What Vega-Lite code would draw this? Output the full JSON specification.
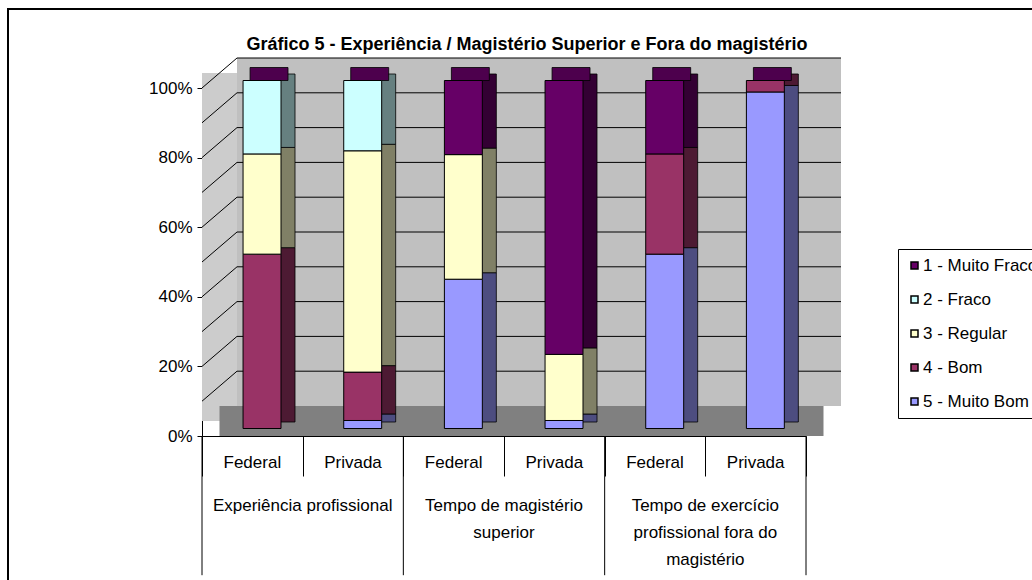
{
  "$schema": "https://vega.github.io/schema/vega-lite/v6.json",
  "width": 604,
  "height": 348,
  "autosize": {"type": "none"},
  "padding": {"left": 202, "top": 88, "right": 226, "bottom": 144},
  "background": "white",
  "config": {"font": "Liberation Sans", "view": {"stroke": null}, "axisY": {"labelOverlap": false, "labelSeparation": 0, "tickCount": 10}},
  "title": {
    "text": "Gráfico 5 - Experiência / Magistério Superior e Fora do magistério",
    "anchor": "middle", "frame": "group", "dx": 23, "offset": -47,
    "font": "Liberation Sans", "fontSize": 18, "fontWeight": "bold", "color": "black"
  },
  "datasets": {
    "notas": [
      {"coluna": "Experiência profissional|Federal", "grupo": "Experiência profissional", "inst": "Federal", "nivel": "4 - Bom", "valor": 50.1},
      {"coluna": "Experiência profissional|Federal", "grupo": "Experiência profissional", "inst": "Federal", "nivel": "3 - Regular", "valor": 28.8},
      {"coluna": "Experiência profissional|Federal", "grupo": "Experiência profissional", "inst": "Federal", "nivel": "2 - Fraco", "valor": 21.1},
      {"coluna": "Experiência profissional|Privada", "grupo": "Experiência profissional", "inst": "Privada", "nivel": "5 - Muito Bom", "valor": 2.3},
      {"coluna": "Experiência profissional|Privada", "grupo": "Experiência profissional", "inst": "Privada", "nivel": "4 - Bom", "valor": 13.9},
      {"coluna": "Experiência profissional|Privada", "grupo": "Experiência profissional", "inst": "Privada", "nivel": "3 - Regular", "valor": 63.6},
      {"coluna": "Experiência profissional|Privada", "grupo": "Experiência profissional", "inst": "Privada", "nivel": "2 - Fraco", "valor": 20.2},
      {"coluna": "Tempo de magistério superior|Federal", "grupo": "Tempo de magistério\nsuperior", "inst": "Federal", "nivel": "5 - Muito Bom", "valor": 42.9},
      {"coluna": "Tempo de magistério superior|Federal", "grupo": "Tempo de magistério\nsuperior", "inst": "Federal", "nivel": "3 - Regular", "valor": 35.8},
      {"coluna": "Tempo de magistério superior|Federal", "grupo": "Tempo de magistério\nsuperior", "inst": "Federal", "nivel": "1 - Muito Fraco", "valor": 21.3},
      {"coluna": "Tempo de magistério superior|Privada", "grupo": "Tempo de magistério\nsuperior", "inst": "Privada", "nivel": "5 - Muito Bom", "valor": 2.3},
      {"coluna": "Tempo de magistério superior|Privada", "grupo": "Tempo de magistério\nsuperior", "inst": "Privada", "nivel": "3 - Regular", "valor": 19.0},
      {"coluna": "Tempo de magistério superior|Privada", "grupo": "Tempo de magistério\nsuperior", "inst": "Privada", "nivel": "1 - Muito Fraco", "valor": 78.7},
      {"coluna": "Exercício fora do magistério|Federal", "grupo": "Tempo de exercício\nprofissional fora do\nmagistério", "inst": "Federal", "nivel": "5 - Muito Bom", "valor": 50.1},
      {"coluna": "Exercício fora do magistério|Federal", "grupo": "Tempo de exercício\nprofissional fora do\nmagistério", "inst": "Federal", "nivel": "4 - Bom", "valor": 28.8},
      {"coluna": "Exercício fora do magistério|Federal", "grupo": "Tempo de exercício\nprofissional fora do\nmagistério", "inst": "Federal", "nivel": "1 - Muito Fraco", "valor": 21.1},
      {"coluna": "Exercício fora do magistério|Privada", "grupo": "Tempo de exercício\nprofissional fora do\nmagistério", "inst": "Privada", "nivel": "5 - Muito Bom", "valor": 96.7},
      {"coluna": "Exercício fora do magistério|Privada", "grupo": "Tempo de exercício\nprofissional fora do\nmagistério", "inst": "Privada", "nivel": "4 - Bom", "valor": 3.3}
    ],
    "marcas": [
      {"tick": 10}, {"tick": 20}, {"tick": 30}, {"tick": 40}, {"tick": 50},
      {"tick": 60}, {"tick": 70}, {"tick": 80}, {"tick": 90}, {"tick": 100}
    ]
  },
  "data": {"name": "notas"},
  "layer": [
    {
      "data": {"values": [{}]},
      "mark": {"type": "rule", "stroke": "black", "strokeWidth": 2, "xOffset": -244.33, "x2Offset": 400, "yOffset": -79},
      "encoding": {
        "x": {"datum": "Experiência profissional|Federal", "type": "nominal", "scale": {"domain": ["Experiência profissional|Federal", "Experiência profissional|Privada", "Tempo de magistério superior|Federal", "Tempo de magistério superior|Privada", "Exercício fora do magistério|Federal", "Exercício fora do magistério|Privada"], "paddingInner": 0, "paddingOuter": 0}},
        "x2": {"datum": "Exercício fora do magistério|Privada"},
        "y": {"datum": 100, "type": "quantitative", "scale": {"domain": [0, 100], "nice": false}}
      }
    },
    {
      "data": {"values": [{}]},
      "mark": {"type": "rule", "stroke": "black", "strokeWidth": 2, "xOffset": -244.33, "yOffset": -80, "y2Offset": 300},
      "encoding": {
        "x": {"datum": "Experiência profissional|Federal", "type": "nominal", "scale": {"domain": ["Experiência profissional|Federal", "Experiência profissional|Privada", "Tempo de magistério superior|Federal", "Tempo de magistério superior|Privada", "Exercício fora do magistério|Federal", "Exercício fora do magistério|Privada"], "paddingInner": 0, "paddingOuter": 0}},
        "y": {"datum": 100, "type": "quantitative", "scale": {"domain": [0, 100], "nice": false}},
        "y2": {"datum": 0}
      }
    },
    {
      "data": {"values": [{}]},
      "mark": {"type": "rule", "stroke": "#CCCCCC", "strokeWidth": 35, "strokeCap": "butt", "xOffset": -32.83, "yOffset": -15, "y2Offset": -15},
      "encoding": {
        "x": {"datum": "Experiência profissional|Federal", "type": "nominal", "scale": {"domain": ["Experiência profissional|Federal", "Experiência profissional|Privada", "Tempo de magistério superior|Federal", "Tempo de magistério superior|Privada", "Exercício fora do magistério|Federal", "Exercício fora do magistério|Privada"], "paddingInner": 0, "paddingOuter": 0}},
        "y": {"datum": 0, "type": "quantitative", "scale": {"domain": [0, 100], "nice": false}},
        "y2": {"datum": 100}
      }
    },
    {
      "data": {"values": [{}]},
      "mark": {"type": "rule", "stroke": "#C0C0C0", "strokeWidth": 348, "strokeCap": "butt", "xOffset": -15.33, "x2Offset": 85.33, "yOffset": -30},
      "encoding": {
        "x": {"datum": "Experiência profissional|Federal", "type": "nominal", "scale": {"domain": ["Experiência profissional|Federal", "Experiência profissional|Privada", "Tempo de magistério superior|Federal", "Tempo de magistério superior|Privada", "Exercício fora do magistério|Federal", "Exercício fora do magistério|Privada"], "paddingInner": 0, "paddingOuter": 0}},
        "x2": {"datum": "Exercício fora do magistério|Privada"},
        "y": {"datum": 50, "type": "quantitative", "scale": {"domain": [0, 100], "nice": false}}
      }
    },
    {
      "data": {"values": [{}]},
      "mark": {"type": "rule", "stroke": "#808080", "strokeWidth": 30, "strokeCap": "butt", "xOffset": -32.83, "x2Offset": 67.83, "yOffset": -15},
      "encoding": {
        "x": {"datum": "Experiência profissional|Federal", "type": "nominal", "scale": {"domain": ["Experiência profissional|Federal", "Experiência profissional|Privada", "Tempo de magistério superior|Federal", "Tempo de magistério superior|Privada", "Exercício fora do magistério|Federal", "Exercício fora do magistério|Privada"], "paddingInner": 0, "paddingOuter": 0}},
        "x2": {"datum": "Exercício fora do magistério|Privada"},
        "y": {"datum": 0, "type": "quantitative", "scale": {"domain": [0, 100], "nice": false}}
      }
    },
    {
      "data": {"name": "marcas"},
      "mark": {"type": "rule", "stroke": "black", "strokeWidth": 1, "xOffset": -50.33, "x2Offset": -15.33, "y2Offset": -30},
      "encoding": {
        "x": {"datum": "Experiência profissional|Federal", "type": "nominal", "scale": {"domain": ["Experiência profissional|Federal", "Experiência profissional|Privada", "Tempo de magistério superior|Federal", "Tempo de magistério superior|Privada", "Exercício fora do magistério|Federal", "Exercício fora do magistério|Privada"], "paddingInner": 0, "paddingOuter": 0}},
        "x2": {"datum": "Experiência profissional|Federal"},
        "y": {"field": "tick", "type": "quantitative", "scale": {"domain": [0, 100], "nice": false}},
        "y2": {"field": "tick"}
      }
    },
    {
      "data": {"name": "marcas"},
      "mark": {"type": "rule", "stroke": "black", "strokeWidth": 1, "xOffset": -15.33, "x2Offset": 85.33, "yOffset": -30},
      "encoding": {
        "x": {"datum": "Experiência profissional|Federal", "type": "nominal", "scale": {"domain": ["Experiência profissional|Federal", "Experiência profissional|Privada", "Tempo de magistério superior|Federal", "Tempo de magistério superior|Privada", "Exercício fora do magistério|Federal", "Exercício fora do magistério|Privada"], "paddingInner": 0, "paddingOuter": 0}},
        "x2": {"datum": "Exercício fora do magistério|Privada"},
        "y": {"field": "tick", "type": "quantitative", "scale": {"domain": [0, 100], "nice": false}}
      }
    },
    {
      "mark": {"type": "bar", "width": {"band": 0.377}, "xOffset": 23.7, "yOffset": -14, "y2Offset": -14, "stroke": "black", "strokeWidth": 0.8},
      "encoding": {
        "x": {"field": "coluna", "type": "nominal", "scale": {"domain": ["Experiência profissional|Federal", "Experiência profissional|Privada", "Tempo de magistério superior|Federal", "Tempo de magistério superior|Privada", "Exercício fora do magistério|Federal", "Exercício fora do magistério|Privada"], "paddingInner": 0, "paddingOuter": 0}},
        "y": {"field": "valor", "type": "quantitative", "stack": "zero", "scale": {"domain": [0, 100], "nice": false}},
        "fill": {"field": "nivel", "type": "nominal", "scale": {"domain": ["5 - Muito Bom", "4 - Bom", "3 - Regular", "2 - Fraco", "1 - Muito Fraco"], "range": ["#4D4D80", "#4D1A33", "#808066", "#668080", "#330033"]}, "legend": null},
        "order": {"field": "nivel", "sort": "descending"}
      }
    },
    {
      "transform": [{"aggregate": [{"op": "sum", "field": "valor", "as": "total"}], "groupby": ["coluna"]}],
      "mark": {"type": "bar", "width": {"band": 0.377}, "xOffset": 16.7, "yOffset": -20.5, "y2Offset": -7.5, "fill": "#4D004D", "stroke": "black", "strokeWidth": 0.8},
      "encoding": {
        "x": {"field": "coluna", "type": "nominal", "scale": {"domain": ["Experiência profissional|Federal", "Experiência profissional|Privada", "Tempo de magistério superior|Federal", "Tempo de magistério superior|Privada", "Exercício fora do magistério|Federal", "Exercício fora do magistério|Privada"], "paddingInner": 0, "paddingOuter": 0}},
        "y": {"datum": 100, "type": "quantitative", "scale": {"domain": [0, 100], "nice": false}},
        "y2": {"datum": 100}
      }
    },
    {
      "mark": {"type": "bar", "width": {"band": 0.377}, "xOffset": 9.7, "yOffset": -7.5, "y2Offset": -7.5, "stroke": "black", "strokeWidth": 1},
      "encoding": {
        "x": {
          "field": "coluna", "type": "nominal",
          "scale": {"domain": ["Experiência profissional|Federal", "Experiência profissional|Privada", "Tempo de magistério superior|Federal", "Tempo de magistério superior|Privada", "Exercício fora do magistério|Federal", "Exercício fora do magistério|Privada"], "paddingInner": 0, "paddingOuter": 0},
          "axis": {
            "title": null, "labels": false,
            "tickBand": "extent", "tickSize": 40, "tickColor": "black", "domainColor": "black",
            "grid": false
          }
        },
        "y": {
          "field": "valor", "type": "quantitative", "stack": "zero",
          "scale": {"domain": [0, 100], "nice": false},
          "axis": {
            "title": null, "values": [0, 10, 20, 30, 40, 50, 60, 70, 80, 90, 100], "tickCount": 10,
            "labelExpr": "datum.value + '%'", "grid": false, "labelOverlap": false,
            "domainColor": "black", "tickColor": "black", "tickSize": 5,
            "labelFontSize": 17, "labelColor": "black", "labelPadding": 5
          }
        },
        "color": {
          "field": "nivel", "type": "nominal",
          "scale": {"domain": ["1 - Muito Fraco", "2 - Fraco", "3 - Regular", "4 - Bom", "5 - Muito Bom"], "range": ["#660066", "#CCFFFF", "#FFFFCC", "#993366", "#9999FF"]},
          "legend": {
            "title": null, "orient": "none", "legendX": 696, "legendY": 161,
            "strokeColor": "black", "padding": 8,
            "symbolType": "square", "symbolSize": 49, "symbolStrokeColor": "black",
            "labelFontSize": 17, "labelColor": "black", "labelOffset": 0, "rowPadding": 16
          }
        },
        "order": {"field": "nivel", "sort": "descending"}
      }
    },
    {
      "transform": [
        {"filter": "datum.inst == 'Federal'"},
        {"aggregate": [{"op": "count", "as": "n"}], "groupby": ["coluna"]}
      ],
      "mark": {"type": "rule", "stroke": "black", "strokeWidth": 1},
      "encoding": {
        "x": {"field": "coluna", "type": "nominal", "bandPosition": 0, "scale": {"domain": ["Experiência profissional|Federal", "Experiência profissional|Privada", "Tempo de magistério superior|Federal", "Tempo de magistério superior|Privada", "Exercício fora do magistério|Federal", "Exercício fora do magistério|Privada"], "paddingInner": 0, "paddingOuter": 0}},
        "y": {"datum": 0, "type": "quantitative", "scale": {"domain": [0, 100], "nice": false}},
        "y2": {"datum": -40}
      }
    },
    {
      "transform": [
        {"filter": "datum.coluna == 'Exercício fora do magistério|Privada'"},
        {"aggregate": [{"op": "count", "as": "n"}], "groupby": ["coluna"]}
      ],
      "mark": {"type": "rule", "stroke": "black", "strokeWidth": 1},
      "encoding": {
        "x": {"field": "coluna", "type": "nominal", "bandPosition": 1, "scale": {"domain": ["Experiência profissional|Federal", "Experiência profissional|Privada", "Tempo de magistério superior|Federal", "Tempo de magistério superior|Privada", "Exercício fora do magistério|Federal", "Exercício fora do magistério|Privada"], "paddingInner": 0, "paddingOuter": 0}},
        "y": {"datum": 0, "type": "quantitative", "scale": {"domain": [0, 100], "nice": false}},
        "y2": {"datum": -40}
      }
    },
    {
      "transform": [
        {"aggregate": [{"op": "count", "as": "n"}], "groupby": ["coluna", "inst"]}
      ],
      "mark": {"type": "text", "align": "center", "baseline": "middle", "fontSize": 17, "dy": 27, "color": "black"},
      "encoding": {
        "x": {"field": "coluna", "type": "nominal", "scale": {"domain": ["Experiência profissional|Federal", "Experiência profissional|Privada", "Tempo de magistério superior|Federal", "Tempo de magistério superior|Privada", "Exercício fora do magistério|Federal", "Exercício fora do magistério|Privada"], "paddingInner": 0, "paddingOuter": 0}},
        "y": {"datum": 0, "type": "quantitative", "scale": {"domain": [0, 100], "nice": false}},
        "text": {"field": "inst", "type": "nominal"}
      }
    },
    {
      "transform": [
        {"filter": "datum.inst == 'Federal'"},
        {"aggregate": [{"op": "count", "as": "n"}], "groupby": ["coluna", "grupo"]}
      ],
      "mark": {"type": "text", "align": "center", "baseline": "top", "fontSize": 17, "lineHeight": 27, "lineBreak": "\n", "dy": 62, "color": "black"},
      "encoding": {
        "x": {"field": "coluna", "type": "nominal", "bandPosition": 1, "scale": {"domain": ["Experiência profissional|Federal", "Experiência profissional|Privada", "Tempo de magistério superior|Federal", "Tempo de magistério superior|Privada", "Exercício fora do magistério|Federal", "Exercício fora do magistério|Privada"], "paddingInner": 0, "paddingOuter": 0}},
        "y": {"datum": 0, "type": "quantitative", "scale": {"domain": [0, 100], "nice": false}},
        "text": {"field": "grupo", "type": "nominal"}
      }
    }
  ]
}
